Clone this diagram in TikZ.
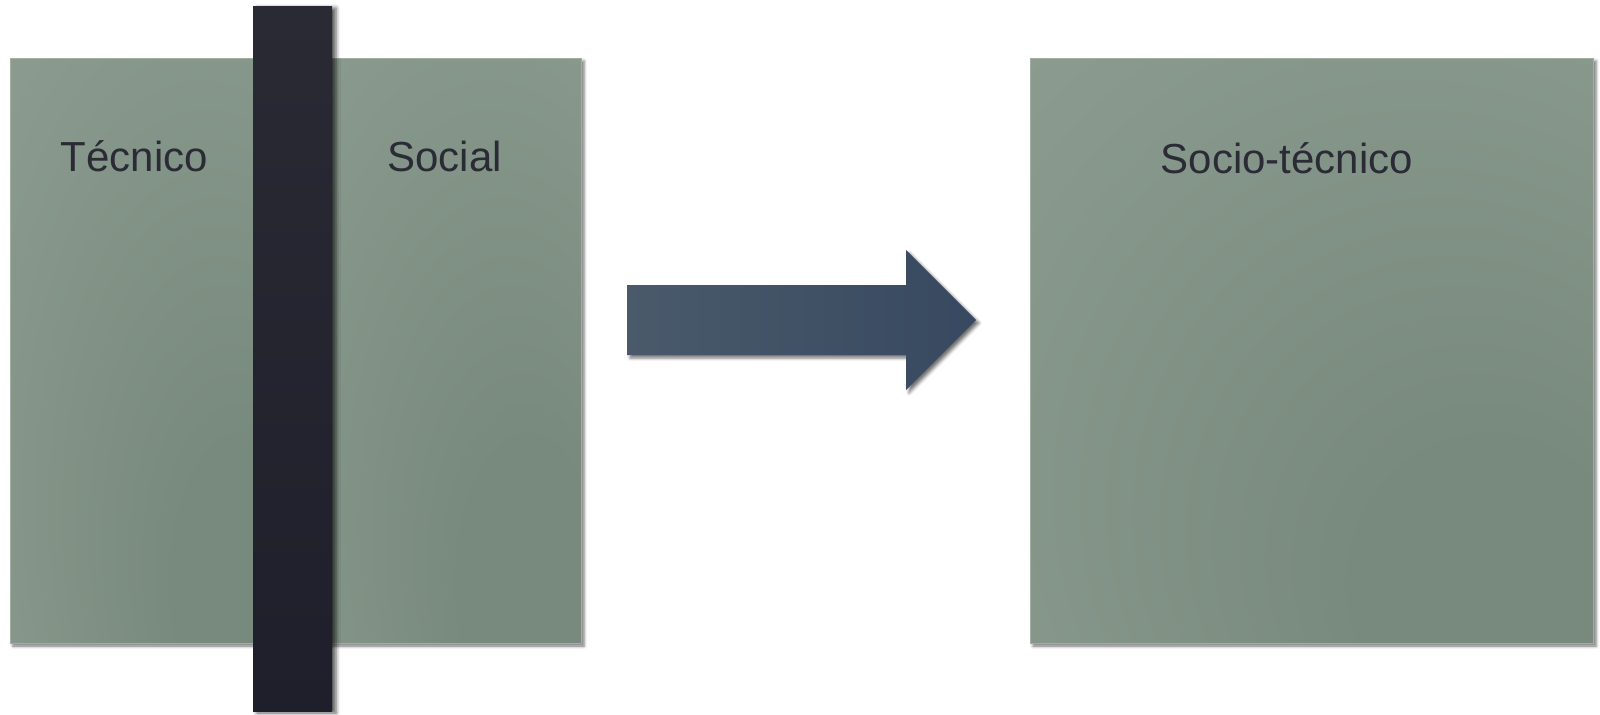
\documentclass[tikz,border=0pt]{standalone}
\usepackage{fontspec}
\setmainfont{Liberation Sans}
\usetikzlibrary{shadows.blur}

\definecolor{boxlight}{HTML}{95A499}
\definecolor{boxdark}{HTML}{788A7D}
\definecolor{boxrim}{HTML}{A0AEA4}
\definecolor{bartop}{HTML}{2A2A35}
\definecolor{barbot}{HTML}{1F1F2B}
\definecolor{arrowleft}{HTML}{4A5A6B}
\definecolor{arrowright}{HTML}{374960}
\definecolor{labelcol}{HTML}{2B2B36}

% light rim, darker towards the bottom
\pgfdeclareradialshading{panelglow}{\pgfpoint{20bp}{-25bp}}{color(0bp)=(boxdark); color(12bp)=(boxdark); color(62bp)=(boxlight)}

\tikzset{
  panel/.style={shading=panelglow, draw=boxrim, line width=0.5pt,
    blur shadow={shadow xshift=1.5pt, shadow yshift=-1.5pt, shadow blur radius=1.5pt, shadow opacity=55}},
  divider/.style={top color=bartop, bottom color=barbot,
    blur shadow={shadow xshift=2pt, shadow yshift=-1pt, shadow blur radius=2pt, shadow opacity=65}},
  bigarrow/.style={left color=arrowleft, right color=arrowright,
    blur shadow={shadow xshift=1.5pt, shadow yshift=-1.5pt, shadow blur radius=1.5pt, shadow opacity=55}},
  tag/.style={anchor=base, inner sep=0pt, text=labelcol, font=\fontsize{21}{25}\selectfont}
}

\begin{document}
\begin{tikzpicture}[x=0.5pt, y=-0.5pt]
  \useasboundingbox (0,0) rectangle (1600,714);
  % split panel with the bar across it
  \shade[panel] (10,58) rectangle (292,643);
  \shade[panel] (292,58) rectangle (581,643);
  \shade[divider] (253,6) rectangle (332,711);
  \node[tag] (tecnico) at (134.5,171) {Técnico};
  \node[tag] (social) at (444.7,171) {Social};
  % arrow
  \shade[bigarrow] (627,285) -- (906,285) -- (906,250) -- (976,320)
    -- (906,390) -- (906,355) -- (627,355) -- cycle;
  % joined panel
  \shade[panel] (1030,58) rectangle (1593,643);
  \node[tag] (sociotecnico) at (1286.9,173.3) {Socio-técnico};
\end{tikzpicture}
\end{document}
